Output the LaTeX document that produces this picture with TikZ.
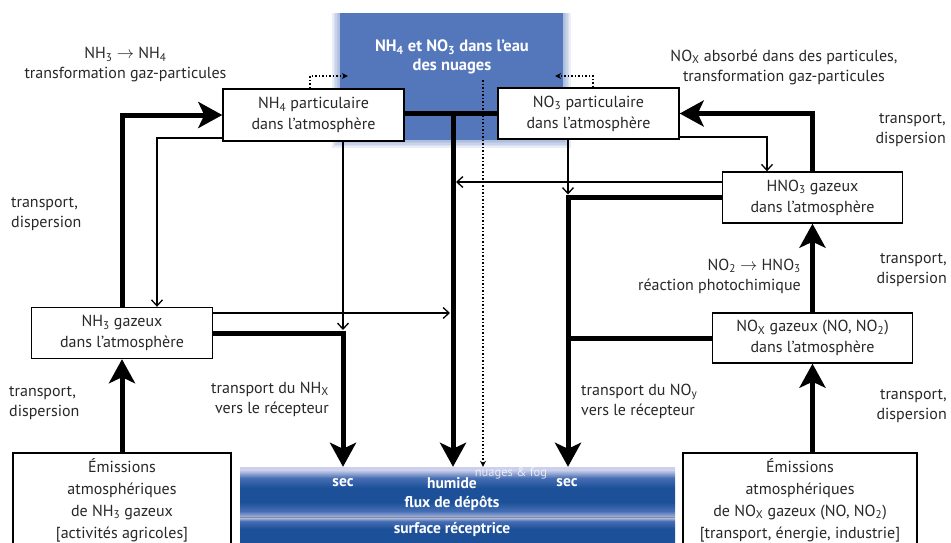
\documentclass[tikz,border=0pt]{standalone}
\usepackage{fontspec}
\setmainfont{PT Sans}
\usetikzlibrary{arrows.meta,calc}
\definecolor{txt}{RGB}{40,40,40}
\definecolor{cloudblue}{RGB}{84,119,188}
\definecolor{bandlight}{RGB}{205,208,236}
\definecolor{bandlow}{RGB}{165,180,222}
\definecolor{banddark}{RGB}{28,80,152}
\definecolor{bandmid}{RGB}{70,110,180}
\pgfdeclareverticalshading{bandup}{100bp}{color(0bp)=(bandlow); color(25bp)=(bandlow); color(31bp)=(bandmid); color(40bp)=(banddark); color(54bp)=(banddark); color(64bp)=(bandmid); color(72bp)=(bandlight); color(75bp)=(bandlight); color(100bp)=(bandlight)}
\pgfdeclareverticalshading{banddown}{100bp}{color(0bp)=(banddark); color(25bp)=(banddark); color(55bp)=(banddark); color(68bp)=(bandmid); color(75bp)=(bandlight); color(100bp)=(bandlight)}
\newcommand{\lsub}[1]{\textsubscript{#1}}
\begin{document}
\begin{tikzpicture}[x=1pt,y=-1pt,
  every node/.style={text=txt},
  lbl/.style={font=\fontsize{16}{20}\selectfont, align=center, inner sep=0pt},
  box/.style={draw=black, line width=1.4pt, fill=white, align=center, inner sep=0pt,
              font=\fontsize{16}{21}\selectfont},
  emibox/.style={box, font=\fontsize{16}{22}\selectfont},
  bandtxt/.style={text=white, font=\fontsize{15.5}{18}\selectfont\bfseries, inner sep=0pt},
  heavy/.style={line width=5pt, line join=miter, draw=black},
  heavyarrow/.style={heavy, -{Stealth[length=24pt,width=26pt,inset=6pt]}},
  light/.style={line width=1.3pt, draw=black, -{Straight Barb[length=6pt,width=11pt]}},
  dotarrow/.style={line width=1.5pt, dotted, draw=black, -{Stealth[length=6pt,width=6pt]}},
]
\useasboundingbox (0,0) rectangle (951,542);

% cloud
\foreach \i in {1,...,5}
  \fill[cloudblue, opacity=0.12] (340-1.6*\i,13) rectangle (563+1.6*\i,140+1.6*\i);
\node[fill=cloudblue, minimum width=223pt, minimum height=127pt, inner sep=0pt] (cloud) at (451.5,76.5) {};
\node[text=white, font=\fontsize{16.5}{19}\selectfont\bfseries, align=center, inner sep=0pt] (title) at (452,57)
  {NH\lsub{4} et NO\lsub{3} dans l’eau\\des nuages};

% deposition band
\node[shading=bandup, minimum width=435pt, minimum height=50pt, inner sep=0pt] (band) at (457.5,492) {};
\node[shading=banddown, minimum width=435pt, minimum height=30pt, inner sep=0pt] (surf) at (457.5,532) {};
\draw[black!45, line width=0.8pt] (band.south west) -- (band.south east);
\node[bandtxt] (sec1) at (343,483) {sec};
\node[bandtxt] (hum) at (452,483) {humide};
\node[bandtxt] (sec2) at (567,483) {sec};
\node[bandtxt] (flux) at (452,503) {flux de dépôts};
\node[bandtxt] (surftxt) at (452,529) {surface réceptrice};
\node[text=white, opacity=0.75, font=\fontsize{12.5}{14}\selectfont, inner sep=0pt] (fog) at (511,473) {nuages \& fog};

% boxes
\node[box, minimum width=181pt, minimum height=52pt] (nh4p) at (313.5,115) {NH\lsub{4} particulaire\\dans l’atmosphère};
\node[box, minimum width=181pt, minimum height=51pt] (no3p) at (588.5,113.5) {NO\lsub{3} particulaire\\dans l’atmosphère};
\node[box, minimum width=180pt, minimum height=51pt] (hno3) at (812.5,197.5) {HNO\lsub{3} gazeux\\dans l’atmosphère};
\node[box, minimum width=200pt, minimum height=50pt] (noxg) at (812.5,338) {NO\lsub{X} gazeux (NO, NO\lsub{2})\\dans l’atmosphère};
\node[box, minimum width=181pt, minimum height=51pt] (nh3g) at (122,333) {NH\lsub{3} gazeux\\dans l’atmosphère};
\node[emibox, minimum width=218pt, minimum height=94pt] (emnh3) at (122,500) {Émissions\\atmosphériques\\de NH\lsub{3} gazeux\\{[}activités agricoles{]}};
\node[emibox, minimum width=234pt, minimum height=94pt] (emnox) at (800,500) {Émissions\\atmosphériques\\de NO\lsub{X} gazeux (NO, NO\lsub{2})\\{[}transport, énergie, industrie{]}};

% labels
\node[lbl] (l1) at (125.5,65) {NH\lsub{3} $\rightarrow$ NH\lsub{4}\\transformation gaz-particules};
\node[lbl] (l2) at (784,67) {NO\lsub{X} absorbé dans des particules,\\transformation gaz-particules};
\node[lbl, anchor=west, align=left] (l3) at (11,214) {transport,\\dispersion};
\node[lbl, anchor=west, align=left] (l4) at (9,403) {transport,\\dispersion};
\node[lbl, anchor=east, align=right] (l5) at (329,399) {transport du NH\lsub{X}\\vers le récepteur};
\node[lbl, anchor=west, align=left] (l6) at (581,401) {transport du NO\lsub{y}\\vers le récepteur};
\node[lbl, anchor=east, align=right] (l7) at (946,130) {transport,\\dispersion};
\node[lbl, anchor=east, align=right] (l8) at (947,270) {transport,\\dispersion};
\node[lbl, anchor=east, align=right] (l9) at (947,406) {transport,\\dispersion};
\node[lbl, anchor=east, align=right] (l10) at (801,276) {NO\lsub{2} $\rightarrow$ HNO\lsub{3}\\réaction photochimique};

% junctions
\coordinate (jnh) at (343,333);
\coordinate (jc) at (453,113);
\coordinate (jr) at (568,197.5);
\coordinate (dtop) at (483,80);

% NH side
\draw[heavyarrow] (emnh3.north) -- (nh3g.south);
\draw[heavyarrow] (nh3g.north) |- (nh4p.west);
\draw[light] (nh4p.west|-0,138) -| (157,0|-nh3g.north);
\draw[light] (343,0|-nh4p.south) -- ($(jnh)+(0,-3)$);
\draw[heavyarrow] (nh3g.east) -- (jnh) -- (jnh|-band.north);
\draw[light] (nh3g.east|-0,313) -- ($(jc|-0,313)+(-3,0)$);

% central
\draw[heavy] (nh4p.east|-jc) -- (no3p.west|-jc);
\draw[heavyarrow] (jc) -- (jc|-band.north);
\draw[dotarrow] (dtop) -- (dtop|-band.north);
\draw[dotarrow] (310,0|-nh4p.north) |- ($(cloud.west|-0,76)+(8,0)$);
\draw[dotarrow] (593,0|-no3p.north) |- ($(cloud.east|-0,76)+(-8,0)$);

% NO side
\draw[light] (568,0|-no3p.south) -- ($(jr)+(0,-3)$);
\draw[heavyarrow] (hno3.west) -- (jr) -- (jr|-band.north);
\draw[heavy] (noxg.west) -- (noxg.west-|jr);
\draw[light] (hno3.west|-0,182) -- ($(jc|-0,182)+(3,0)$);
\draw[light] (no3p.east|-0,137) -| (767,0|-hno3.north);
\draw[heavyarrow] (hno3.north) |- (no3p.east);
\draw[heavyarrow] (noxg.north) -- (hno3.south);
\draw[heavyarrow] (emnox.north-|noxg.south) -- (noxg.south);
\end{tikzpicture}
\end{document}
